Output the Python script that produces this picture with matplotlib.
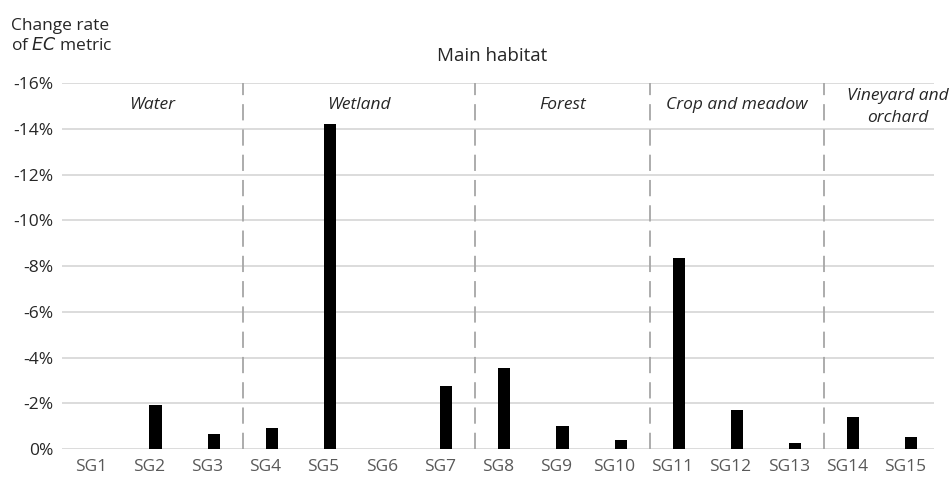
import matplotlib.pyplot as plt

plt.rcParams['font.family'] = ['Open Sans', 'DejaVu Sans']

groups = ['SG1', 'SG2', 'SG3', 'SG4', 'SG5', 'SG6', 'SG7', 'SG8', 'SG9', 'SG10',
          'SG11', 'SG12', 'SG13', 'SG14', 'SG15']
change = [0.0, -1.92, -0.64, -0.93, -14.2, 0.0, -2.75, -3.55, -1.0, -0.39,
          -8.37, -1.69, -0.26, -1.38, -0.54]
habitats = ['Water', 'Wetland', 'Forest', 'Crop and meadow', 'Vineyard and\norchard']
habitat_sizes = [3, 4, 3, 3, 2]
yticks = [0, -2, -4, -6, -8, -10, -12, -14, -16]

off = 0.11
fig = plt.figure(figsize=(9.52, 4.84), dpi=100)
ax = fig.add_axes([0.0651, 0.0723, 0.9160, 0.7562])

x = list(range(len(groups)))
ax.bar([i + off for i in x], change, width=0.21, color='black', zorder=3)

ax.set_xlim(-0.5, len(groups) - 0.5)
ax.set_ylim(0, -16)
ax.set_yticks(yticks)
ax.set_yticklabels(['%d%%' % v if v == 0 else '-%d%%' % abs(v) for v in yticks],
                   fontsize=12.5, color='#262626')
ax.set_xticks(x)
ax.set_xticklabels(groups, fontsize=12.5, color='#595959')
ax.tick_params(length=0, pad=7)
ax.tick_params(axis='y', pad=6)
ax.grid(axis='y', color='#d9d9d9', linewidth=1.3, zorder=0)
for s in ax.spines.values():
    s.set_visible(False)

# habitat separators and labels
start = 0
for name, n in zip(habitats, habitat_sizes):
    end = start + n
    if end < len(groups):
        ax.plot([end - 0.5 + off] * 2, [0, -16], color='#a6a6a6', lw=1.3,
                dashes=(9, 5), zorder=2)
    left = start - 0.5 + (off if start > 0 else 0)
    right = end - 0.5 + off if end < len(groups) else len(groups) - 0.5
    cx = (left + right) / 2
    if '\n' in name:
        cx += 0.32
        ax.text(cx, -14.95, name, ha='center', va='center', style='italic',
                fontsize=12.5, color='#262626', linespacing=1.45)
    else:
        ax.text(cx, -15.05, name, ha='center', va='center', style='italic',
                fontsize=12.5, color='#262626')
    start = end

fig.text(0.517, 0.884, 'Main habitat', ha='center', va='center', fontsize=13.5, color='#262626')
fig.text(0.012, 0.925, 'Change rate\nof $\\it{EC}$ metric', ha='left', va='center',
         fontsize=12.5, color='#262626', linespacing=1.25)

fig.savefig('out.png', dpi=100)
